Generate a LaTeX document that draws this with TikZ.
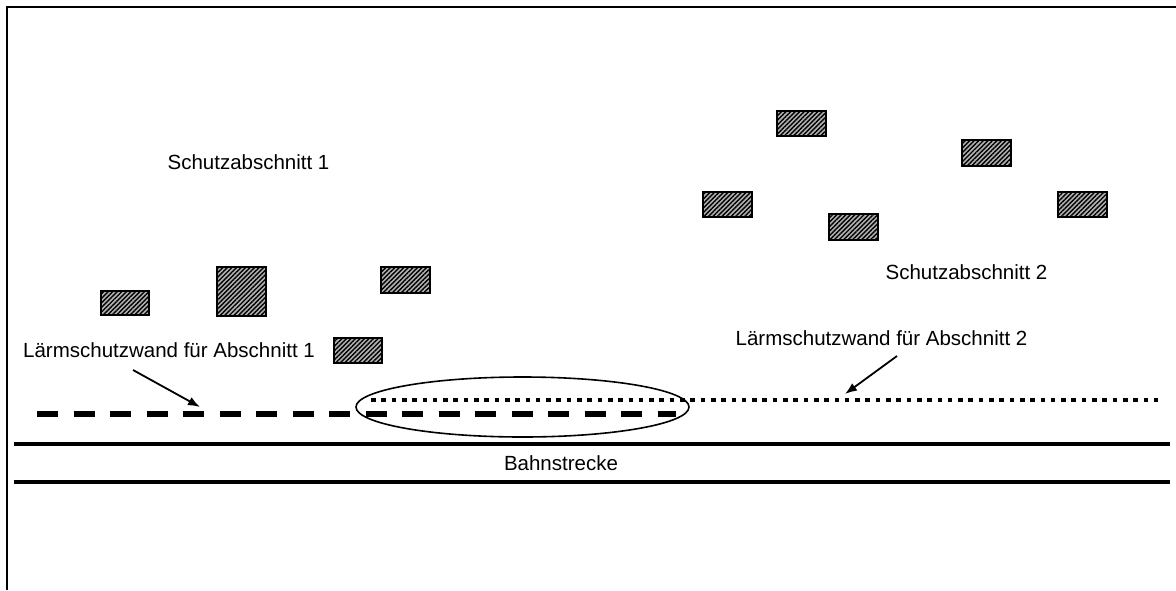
\documentclass[tikz,border=0pt]{standalone}
\usepackage{fontspec}
\setmainfont{Liberation Sans}
\usetikzlibrary{patterns.meta,arrows.meta,shapes.geometric}
\begin{document}
\begin{tikzpicture}[x=1pt,y=-1pt,
  bldg/.style={draw=black,line width=2.6pt,inner sep=0pt,fill=gray!60,
    postaction={pattern={Lines[angle=45,distance=3.2pt,line width=1.4pt]}}},
  lbl/.style={font=\fontsize{20.5}{24}\selectfont,inner sep=0pt,anchor=center},
  rail/.style={line width=3.6pt},
  wallone/.style={line width=5.6pt,dash pattern=on 21pt off 15.5pt},
  walltwo/.style={line width=4.6pt,dash pattern=on 4.6pt off 5.7pt},
  pointer/.style={line width=1.8pt,-{Latex[length=12pt,width=9pt]}}
]
\useasboundingbox (0,0) rectangle (1176,590);
% frame
\draw[line width=2.4pt] (7,590) -- (7,7) -- (1176,7);
% buildings
\node[bldg,minimum width=48pt,minimum height=24pt] (b1) at (125,303) {};
\node[bldg,minimum width=49pt,minimum height=49pt] (b2) at (241.5,291.5) {};
\node[bldg,minimum width=49pt,minimum height=26pt] (b3) at (405.5,280) {};
\node[bldg,minimum width=48pt,minimum height=25pt] (b4) at (358,350.5) {};
\node[bldg,minimum width=49pt,minimum height=25pt] (b5) at (801.5,123.5) {};
\node[bldg,minimum width=49pt,minimum height=25pt] (b6) at (727.5,204.5) {};
\node[bldg,minimum width=49pt,minimum height=26pt] (b7) at (853.5,227) {};
\node[bldg,minimum width=49pt,minimum height=26pt] (b8) at (986.5,153) {};
\node[bldg,minimum width=49pt,minimum height=25pt] (b9) at (1082.5,204.5) {};
% labels
\node[lbl] (s1) at (248.5,162) {Schutzabschnitt 1};
\node[lbl] (s2) at (966.5,272) {Schutzabschnitt 2};
\node[lbl] (l1) at (169,350) {Lärmschutzwand für Abschnitt 1};
\node[lbl] (l2) at (881.5,338) {Lärmschutzwand für Abschnitt 2};
\node[lbl] (bs) at (561,463) {Bahnstrecke};
% railway
\coordinate (r1a) at (14,444); \coordinate (r1b) at (1170,444);
\coordinate (r2a) at (14,482); \coordinate (r2b) at (1170,482);
\draw[rail] (r1a) -- (r1b);
\draw[rail] (r2a) -- (r2b);
% noise barriers
\coordinate (w1a) at (37,414); \coordinate (w1b) at (676,414);
\coordinate (w2a) at (371,400); \coordinate (w2b) at (1158,400);
\draw[wallone] (w1a) -- (w1b);
\draw[walltwo] (w2a) -- (w2b);
% overlap ellipse
\node[draw,line width=1.6pt,ellipse,inner sep=0pt,minimum width=333pt,minimum height=60pt] (ov) at (522.5,407) {};
% pointers
\coordinate (p1s) at (133,370); \coordinate (p1e) at (200,407);
\coordinate (p2s) at (897,356); \coordinate (p2e) at (845,394);
\draw[pointer] (p1s) -- (p1e);
\draw[pointer] (p2s) -- (p2e);
\end{tikzpicture}
\end{document}
